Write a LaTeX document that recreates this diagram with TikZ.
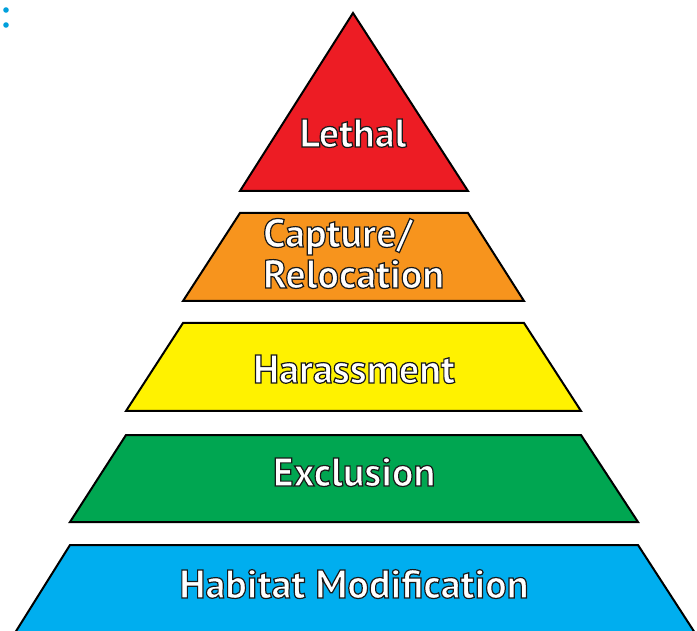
\documentclass[tikz,border=0pt]{standalone}
\usepackage{fontspec}
\setmainfont{PT Sans}
\newfontfamily\lblfont{PT Sans Bold}[FakeBold=3]
\definecolor{tred}{HTML}{ED1C24}
\definecolor{torange}{HTML}{F7941D}
\definecolor{tyellow}{HTML}{FFF200}
\definecolor{tgreen}{HTML}{00A651}
\definecolor{tblue}{HTML}{00AEEF}
\definecolor{dotblue}{HTML}{00A0DC}
\tikzset{
  tier/.style={draw=black, line width=2pt, line join=miter},
  lbl/.style={inner sep=0pt, font=\fontsize{40}{42}\lblfont, text=white, align=left},
}
\newcommand{\olt}[1]{\special{pdf:code 0.1 0.1 0.1 RG}#1}
\begin{document}
\begin{tikzpicture}[x=1pt,y=-1pt]
\useasboundingbox (0,0) rectangle (697,631);
\clip (0,0) rectangle (697,631);
\fill[dotblue] (6,10) circle (2.8);
\fill[dotblue] (6,25) circle (2.8);
\draw[tier, fill=tred] (353,13) -- (468,191) -- (240,191) -- cycle;
\draw[tier, fill=torange] (240,213) -- (468,213) -- (524,301) -- (183,301) -- cycle;
\draw[tier, fill=tyellow] (183,323) -- (524,323) -- (581,411) -- (126,411) -- cycle;
\draw[tier, fill=tgreen] (126,435) -- (581,435) -- (638,522) -- (70,522) -- cycle;
\draw[tier, fill=tblue] (70,545) -- (638,545) -- (697,636) -- (0,650) -- (13,636) -- cycle;
\node[lbl, anchor=base] (lethal) at (353,147) {\olt{Lethal}};
\node[lbl, anchor=base west] (capture) at (263,247) {\olt{Capture/}};
\node[lbl, anchor=base west] (reloc) at (263,288) {\olt{Relocation}};
\node[lbl, anchor=base] (harass) at (354,383) {\olt{Harassment}};
\node[lbl, anchor=base] (excl) at (354,486) {\olt{Exclusion}};
\node[lbl, anchor=base] (habitat) at (354,598) {\olt{Habitat Modification}};
\end{tikzpicture}
\end{document}
